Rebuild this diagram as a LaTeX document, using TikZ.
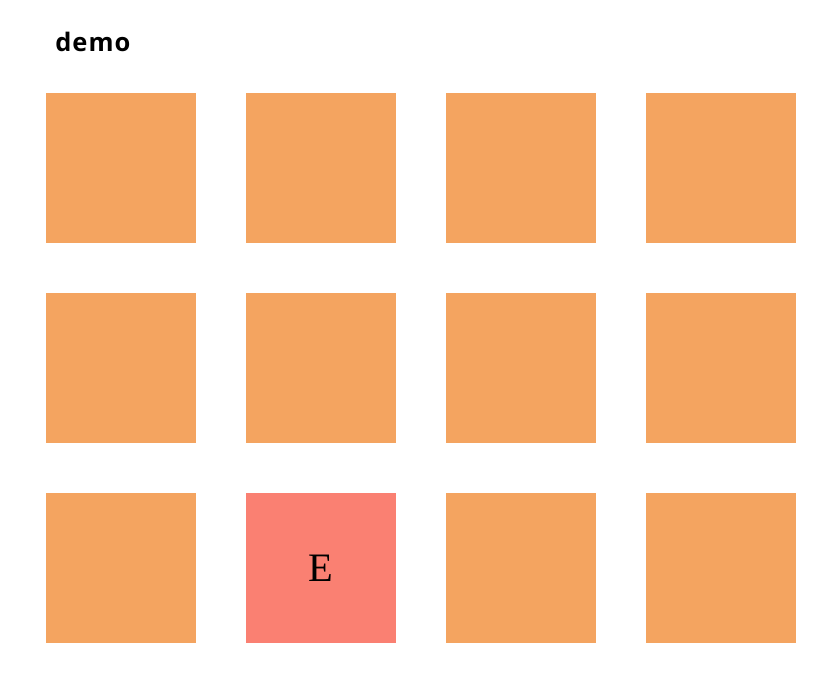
\documentclass[tikz,border=0pt]{standalone}
\usepackage{fontspec}
\newfontfamily\titlefont[LetterSpace=4]{Open Sans}
\newfontfamily\cellfont{Liberation Serif}
\usepackage{tikz}
\usetikzlibrary{positioning}

\definecolor{sandy}{RGB}{244,164,96}
\definecolor{salmonred}{RGB}{250,128,114}

\begin{document}
\begin{tikzpicture}[
        cell/.style={minimum size=3cm, inner sep=0pt, outer sep=0pt, fill=sandy, font=\cellfont\fontsize{23}{27}\selectfont},
        hit/.style={cell, fill=salmonred}
    ]
        \useasboundingbox (0,0) rectangle (16.76,-13.7);
        \node[anchor=base west, font=\titlefont\bfseries\fontsize{14.5}{17}\selectfont, inner sep=0pt] (title) at (1.1,-1.02) {demo};

        % grid of cells, row 3 column 2 marked
        \foreach \r in {1,2,3}
            \foreach \c in {1,2,3,4}
                \node[cell] (c\r\c) at ({2.42+4*(\c-1)},{-3.36-4*(\r-1)}) {};
        \node[hit] (c32) at (c32.center) {E};
    \end{tikzpicture}
\end{document}
